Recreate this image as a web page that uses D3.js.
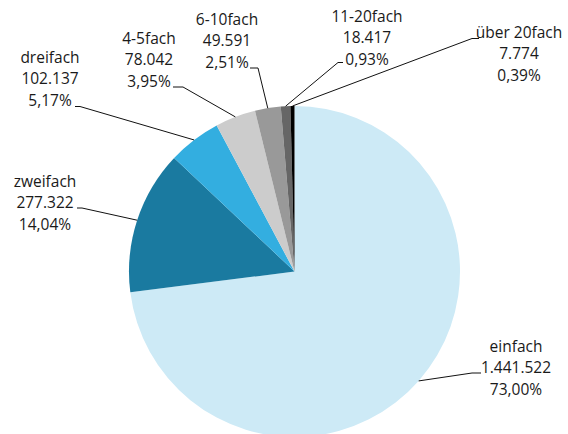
<!DOCTYPE html>
<html><head><meta charset="utf-8">
<script src="https://cdn.jsdelivr.net/npm/d3@7"></script>
<style>
html,body{margin:0;padding:0;background:#fff;}
svg{display:block;}
text{font-family:"Open Sans",sans-serif;font-size:15.5px;fill:#1a1a1a;}
</style></head>
<body>
<svg id="chart" width="568" height="434"></svg>
<script>
// Data
const categories = ["einfach","zweifach","dreifach","4-5fach","6-10fach","11-20fach","über 20fach"];
const counts = [1441522, 277322, 102137, 78042, 49591, 18417, 7774];
const countLabels = ["1.441.522","277.322","102.137","78.042","49.591","18.417","7.774"];
const percentLabels = ["73,00%","14,04%","5,17%","3,95%","2,51%","0,93%","0,39%"];
const colors = ["#cdeaf6","#1a7aa0","#33aee0","#cccccc","#999999","#666666","#000000"];

// Layout for labels: text centre x, first baseline y, leader start and knee
const labelLayout = [
  {x:516, y:352, sx:481, sy:373, kx:472, ky:373},
  {x:45,  y:187, sx:77,  sy:208, kx:82,  ky:208},
  {x:50,  y:63,  sx:75,  sy:106.5, kx:80, ky:106.5},
  {x:149, y:44,  sx:173, sy:87,  kx:183, ky:87},
  {x:227, y:25,  sx:250, sy:68,  kx:258, ky:68},
  {x:367, y:22,  sx:343, sy:62.5, kx:338, ky:62.5},
  {x:519, y:38,  sx:479, sy:38.5, kx:472, ky:38.5}
];

const cx = 294.5, cy = 271.5, r = 165.5, lineH = 21.3;
const svg = d3.select("#chart");
const g = svg.append("g").attr("transform", `translate(${cx},${cy})`);

const data = categories.map((c,i)=>({cat:c, value:counts[i], i}));
const pie = d3.pie().value(d=>d.value).sort(null).startAngle(0).endAngle(2*Math.PI);
const arcs = pie(data);
const arc = d3.arc().innerRadius(0).outerRadius(r);
const edgeArc = d3.arc().innerRadius(r).outerRadius(r);

g.selectAll("path.slice").data(arcs).enter().append("path")
  .attr("class","slice")
  .attr("d", arc)
  .attr("fill", d=>colors[d.data.i]);

// leader lines
arcs.forEach(a=>{
  const L = labelLayout[a.data.i];
  const [ex, ey] = edgeArc.centroid(a);
  svg.append("polyline")
    .attr("points", `${L.sx},${L.sy} ${L.kx},${L.ky} ${ex+cx},${ey+cy}`)
    .attr("fill","none").attr("stroke","#111").attr("stroke-width",1);
});

// labels
arcs.forEach(a=>{
  const i = a.data.i, L = labelLayout[i];
  const t = svg.append("text").attr("text-anchor","middle");
  [categories[i], countLabels[i], percentLabels[i]].forEach((s,k)=>{
    t.append("tspan").attr("x", L.x).attr("y", L.y + k*lineH).text(s);
  });
});
</script>
</body></html>
